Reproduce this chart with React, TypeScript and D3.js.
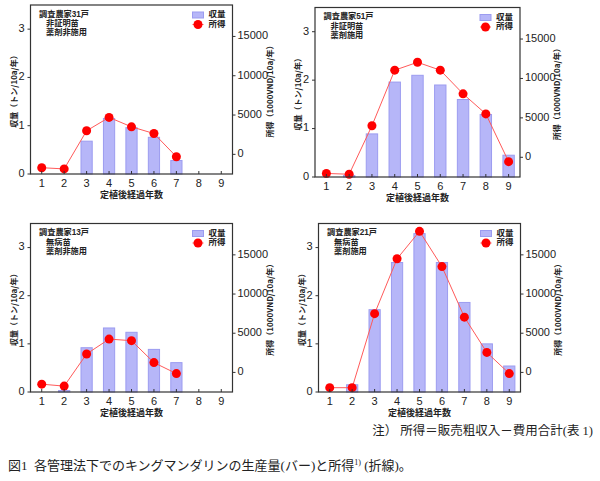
import React from "react";
import * as d3 from "d3";

const years = [1, 2, 3, 4, 5, 6, 7, 8, 9];
const yieldTicks = [0, 1, 2, 3];
const incomeTicks = [0, 5000, 10000, 15000];

const titles1 = ["調査農家31戸", "非証明苗", "薬剤非施用"];
const yield1 = [0, 0, 0.68, 1.15, 0.96, 0.76, 0.28, 0, 0];
const income1 = [-1700, -1850, 3000, 4700, 3500, 2650, -300];

const titles2 = ["調査農家51戸", "非証明苗", "薬剤施用"];
const yield2 = [0, 0.03, 0.89, 1.96, 2.1, 1.9, 1.6, 1.29, 0.45];
const income2 = [-2050, -2150, 4000, 11050, 12050, 11050, 8050, 5500, -550];

const titles3 = ["調査農家13戸", "無病苗", "薬剤非施用"];
const yield3 = [0, 0.03, 0.92, 1.33, 1.24, 0.885, 0.61, 0, 0];
const income3 = [-1500, -1750, 2350, 4250, 4050, 1250, -150];

const titles4 = ["調査農家21戸", "無病苗", "薬剤施用"];
const yield4 = [0, 0.15, 1.71, 2.69, 3.29, 2.69, 1.86, 1.0, 0.54];
const income4 = [-1950, -1950, 7500, 14500, 18000, 13500, 7050, 2550, -150];

const yieldLabel = "収量（トン/10a/年）";
const incomeLabel = "所得（1000VND/10a/年）";
const xLabel = "定植後経過年数";
const legendYield = "収量";
const legendIncome = "所得";
const noteText = "注） 所得＝販売粗収入－費用合計(表 1)";

const CJK = "'Noto Sans CJK JP', 'Noto Sans', sans-serif";
const TIGHT = "'Liberation Sans', 'Noto Sans CJK JP', sans-serif";
const NUM = "'Liberation Sans', Arial, sans-serif";
const SERIF = "'Liberation Serif', 'Noto Sans CJK JP', serif";

const BAR_FILL = "#b6b6f8";
const BAR_STROKE = "#9c9cf0";
const LINE_COLOR = "#ff5a5a";
const DOT_COLOR = "#ff0000";
const AXIS = "#333";

type PanelProps = {
  left: number;
  right: number;
  top: number;
  bottom: number;
  titles: string[];
  yields: number[];
  incomes: number[];
};

function Panel({ left, right, top, bottom, titles, yields, incomes }: PanelProps) {
  const x = d3.scalePoint<number>().domain(years).range([left, right]).padding(0.5);
  const step = x.step();
  const barW = step * 0.5;
  const yL = d3.scaleLinear().domain([0, 3.5]).range([bottom, top]);
  const yR = d3.scaleLinear().domain([-2500, 19000]).range([bottom, top]);
  const incomePts = incomes.map((v, i) => [x(years[i]) as number, yR(v)] as [number, number]);
  const line = d3.line()(incomePts) || "";
  const midY = (top + bottom) / 2;
  const midX = (left + right) / 2;
  const lgX = right - 40;
  return (
    <g>
      {yields.map((v, i) => (
        <rect
          key={"b" + i}
          x={(x(years[i]) as number) - barW / 2}
          y={yL(v)}
          width={barW}
          height={Math.max(0, yL(0) - yL(v))}
          fill={BAR_FILL}
          stroke={BAR_STROKE}
          strokeWidth={1}
        />
      ))}
      <path d={line} fill="none" stroke={LINE_COLOR} strokeWidth={1} />
      {incomePts.map((p, i) => (
        <circle key={"c" + i} cx={p[0]} cy={p[1]} r={4.5} fill={DOT_COLOR} />
      ))}
      <rect x={left} y={top} width={right - left} height={bottom - top} fill="none" stroke={AXIS} strokeWidth={1.2} />
      {years.map((yr) => (
        <g key={"xt" + yr}>
          <line x1={x(yr)} x2={x(yr)} y1={bottom} y2={bottom - 3} stroke={AXIS} />
          <text x={x(yr)} y={bottom + 10} fontSize={11} fontFamily={NUM} textAnchor="middle" dominantBaseline="middle" fill="#222">
            {yr}
          </text>
        </g>
      ))}
      {yieldTicks.map((t) => (
        <g key={"yl" + t}>
          <line x1={left} x2={left - 3} y1={yL(t)} y2={yL(t)} stroke={AXIS} />
          <text x={left - 6} y={yL(t)} fontSize={11} fontFamily={NUM} textAnchor="end" dominantBaseline="middle" fill="#222">
            {t}
          </text>
        </g>
      ))}
      {incomeTicks.map((t) => (
        <g key={"yr" + t}>
          <line x1={right} x2={right + 3} y1={yR(t)} y2={yR(t)} stroke={AXIS} />
          <text x={right + 5} y={yR(t)} fontSize={11} fontFamily={NUM} textAnchor="start" dominantBaseline="middle" fill="#222">
            {t}
          </text>
        </g>
      ))}
      <text
        transform={`translate(${left - 16},${midY}) rotate(-90)`}
        fontSize={8}
        fontFamily={CJK}
        fontWeight={700}
        textAnchor="middle"
        dominantBaseline="middle"
        fill="#222"
      >
        {yieldLabel}
      </text>
      <text
        transform={`translate(${right + 38},${midY}) rotate(-90)`}
        fontSize={8}
        fontFamily={CJK}
        fontWeight={700}
        textAnchor="middle"
        dominantBaseline="middle"
        fill="#222"
      >
        {incomeLabel}
      </text>
      <text x={midX} y={bottom + 22} fontSize={9} fontFamily={CJK} fontWeight={700} textAnchor="middle" dominantBaseline="middle" fill="#222">
        {xLabel}
      </text>
      {titles.map((t, i) => (
        <text
          key={"t" + i}
          x={left + 8.5 + (i > 0 ? 7 : 0)}
          y={top + 9.6 + i * 9.3}
          fontSize={8.2}
          fontFamily={TIGHT}
          fontWeight={700}
          dominantBaseline="middle"
          fill="#222"
        >
          {t}
        </text>
      ))}
      <rect x={lgX} y={top + 7} width={11} height={6} fill={BAR_FILL} stroke={BAR_STROKE} />
      <line x1={lgX} x2={lgX + 11} y1={top + 19.5} y2={top + 19.5} stroke={LINE_COLOR} />
      <circle cx={lgX + 5.5} cy={top + 19.5} r={4.5} fill={DOT_COLOR} />
      <text x={lgX + 16} y={top + 9.8} fontSize={8.5} fontFamily={TIGHT} fontWeight={700} dominantBaseline="middle" fill="#222">
        {legendYield}
      </text>
      <text x={lgX + 16} y={top + 19.5} fontSize={8.5} fontFamily={TIGHT} fontWeight={700} dominantBaseline="middle" fill="#222">
        {legendIncome}
      </text>
    </g>
  );
}

export default function App() {
  return (
    <svg
      width={600}
      height={481}
      viewBox="0 0 600 481"
      style={{ position: "absolute", left: 0, top: 0, background: "#fff" }}
    >
      <rect x={0} y={0} width={600} height={481} fill="#fff" />
      <Panel left={30.5} right={232.5} top={5} bottom={174} titles={titles1} yields={yield1} incomes={income1} />
      <Panel left={315} right={520} top={7.5} bottom={177} titles={titles2} yields={yield2} incomes={income2} />
      <Panel left={30.5} right={232.5} top={223.5} bottom={392} titles={titles3} yields={yield3} incomes={income3} />
      <Panel left={318.5} right={520.5} top={223.5} bottom={392} titles={titles4} yields={yield4} incomes={income4} />
      <text x={593} y={432} fontSize={12.5} fontFamily={SERIF} textAnchor="end" dominantBaseline="middle" fill="#222">
        {noteText}
      </text>
      <text x={8} y={467} fontSize={13} fontFamily={SERIF} dominantBaseline="middle" fill="#222">
        <tspan>{"図1\u00a0\u00a0各管理法下でのキングマンダリンの生産量(バー)と所得"}</tspan>
        <tspan fontSize={8} dy={-4}>1)</tspan>
        <tspan dy={4}>{"\u00a0(折線)。"}</tspan>
      </text>
    </svg>
  );
}
